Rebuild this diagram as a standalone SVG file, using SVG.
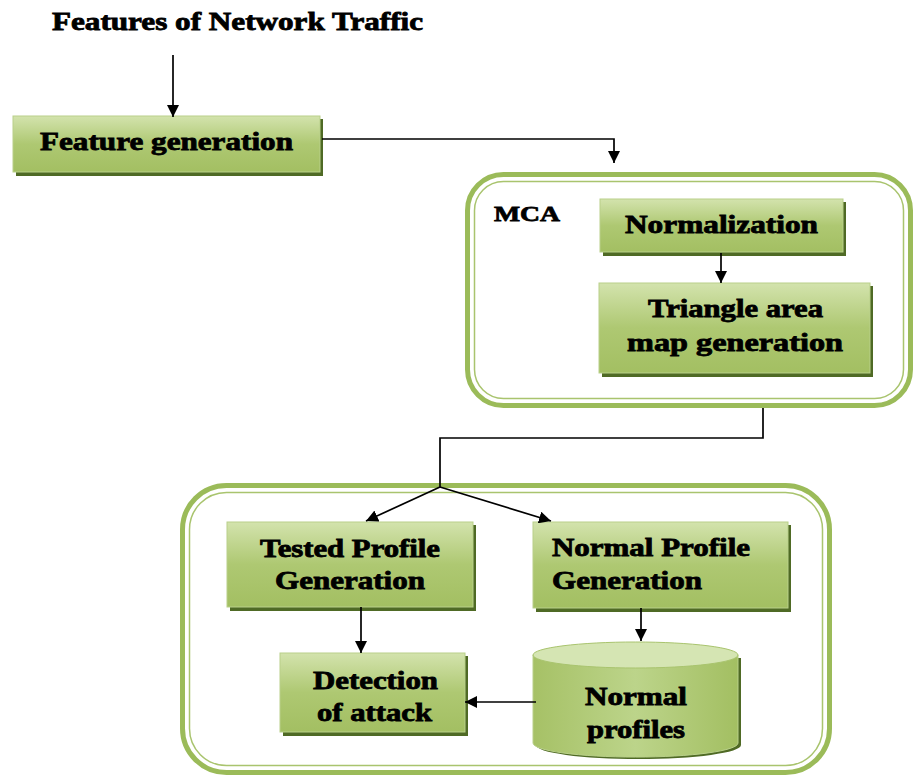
<svg xmlns="http://www.w3.org/2000/svg" width="915" height="776" viewBox="0 0 915 776">
<defs>
<linearGradient id="g" x1="0" y1="0" x2="0" y2="1">
<stop offset="0" stop-color="#d3e3ad"/>
<stop offset="0.5" stop-color="#aec872"/>
<stop offset="1" stop-color="#a3bf62"/>
</linearGradient>
<linearGradient id="cyl" x1="0" y1="0" x2="1" y2="0">
<stop offset="0" stop-color="#a6c166"/>
<stop offset="0.5" stop-color="#bcd48a"/>
<stop offset="1" stop-color="#a3bf62"/>
</linearGradient>
<marker id="ah" viewBox="0 0 10 10" refX="10" refY="5" markerWidth="12" markerHeight="12" markerUnits="userSpaceOnUse" orient="auto">
<path d="M0,0 L10,5 L0,10 z" fill="#000"/>
</marker>
<style>
.sh{fill:#4f6a25}
.bx{fill:url(#g);stroke:#b9d08a;stroke-width:1}
.t{font-family:"Liberation Serif","Times New Roman",serif;font-weight:bold;font-size:25px;fill:#000;stroke:#000;stroke-width:0.8}
.ow{fill:none;stroke:#9bbb59;stroke-width:5}
.iw{fill:none;stroke:#a9c46e;stroke-width:1.5}
.c{fill:none;stroke:#000;stroke-width:1.7}
</style>
</defs>
<rect width="915" height="776" fill="#fff"/>

<g id="title">
<text class="t" x="52" y="30" textLength="371" lengthAdjust="spacingAndGlyphs">Features of Network Traffic</text>
</g>

<g id="mca">
<rect class="ow" x="467.5" y="174.5" width="443" height="231" rx="36"/>
<rect class="iw" x="474.5" y="181.5" width="429" height="217" rx="29"/>
<text class="t" x="494" y="221" textLength="66" lengthAdjust="spacingAndGlyphs" style="font-size:22px">MCA</text>
</g>

<g id="profiles-group">
<rect class="ow" x="182.5" y="485.5" width="647" height="287" rx="44"/>
<rect class="iw" x="189.5" y="492.5" width="633" height="273" rx="37"/>
</g>

<g id="feature-generation">
<rect class="sh" x="16" y="119" width="307" height="57"/>
<rect class="bx" x="13" y="116" width="307" height="56"/>
<text class="t" x="40" y="150" textLength="253" lengthAdjust="spacingAndGlyphs">Feature generation</text>
</g>

<g id="normalization">
<rect class="sh" x="603" y="202" width="243" height="54"/>
<rect class="bx" x="600" y="199" width="243" height="53"/>
<text class="t" x="625" y="233" textLength="193" lengthAdjust="spacingAndGlyphs">Normalization</text>
</g>

<g id="triangle-area">
<rect class="sh" x="602" y="286" width="271" height="91"/>
<rect class="bx" x="599" y="283" width="271" height="90"/>
<text class="t" x="648" y="317" textLength="175" lengthAdjust="spacingAndGlyphs">Triangle area</text>
<text class="t" x="627" y="351" textLength="216" lengthAdjust="spacingAndGlyphs">map  generation</text>
</g>

<g id="tested-profile">
<rect class="sh" x="230" y="525" width="246" height="86"/>
<rect class="bx" x="227" y="522" width="246" height="85"/>
<text class="t" x="260" y="557" textLength="180" lengthAdjust="spacingAndGlyphs">Tested Profile</text>
<text class="t" x="275" y="589" textLength="150" lengthAdjust="spacingAndGlyphs">Generation</text>
</g>

<g id="normal-profile">
<rect class="sh" x="536" y="525" width="255" height="87"/>
<rect class="bx" x="533" y="522" width="255" height="86"/>
<text class="t" x="552" y="556" textLength="198" lengthAdjust="spacingAndGlyphs">Normal Profile</text>
<text class="t" x="552" y="589" textLength="150" lengthAdjust="spacingAndGlyphs">Generation</text>
</g>

<g id="detection">
<rect class="sh" x="283" y="656" width="185" height="80"/>
<rect class="bx" x="280" y="653" width="185" height="79"/>
<text class="t" x="313" y="689" textLength="125" lengthAdjust="spacingAndGlyphs">Detection</text>
<text class="t" x="317" y="721" textLength="115" lengthAdjust="spacingAndGlyphs">of attack</text>
</g>

<g id="normal-profiles">
<path d="M536,658 L536,745 A102,14 0 0 0 741,745 L741,658 z" fill="#4f6a25"/>
<path d="M533,655 L533,743 A102,14 0 0 0 738,743 L738,655 z" fill="url(#cyl)" stroke="#b9d08a" stroke-width="1"/>
<ellipse cx="635.5" cy="655" rx="102.5" ry="13" fill="#d5e5b3" stroke="#a9c46e" stroke-width="1"/>
<text class="t" x="585" y="705" textLength="102" lengthAdjust="spacingAndGlyphs">Normal</text>
<text class="t" x="587" y="738" textLength="98" lengthAdjust="spacingAndGlyphs">profiles</text>
</g>

<g id="connectors">
<line class="c" x1="173" y1="55" x2="173" y2="117" marker-end="url(#ah)"/>
<polyline class="c" points="322,139 614,139 614,163" marker-end="url(#ah)"/>
<line class="c" x1="721" y1="253" x2="721" y2="283" marker-end="url(#ah)"/>
<polyline class="c" points="763,408 763,438 440,438 440,487"/>
<line class="c" x1="440" y1="487" x2="366" y2="521" marker-end="url(#ah)"/>
<line class="c" x1="440" y1="487" x2="551" y2="521" marker-end="url(#ah)"/>
<line class="c" x1="361" y1="607" x2="361" y2="653" marker-end="url(#ah)"/>
<line class="c" x1="641" y1="608" x2="641" y2="641" marker-end="url(#ah)"/>
<line class="c" x1="536" y1="702" x2="465" y2="702" marker-end="url(#ah)"/>
</g>
</svg>
